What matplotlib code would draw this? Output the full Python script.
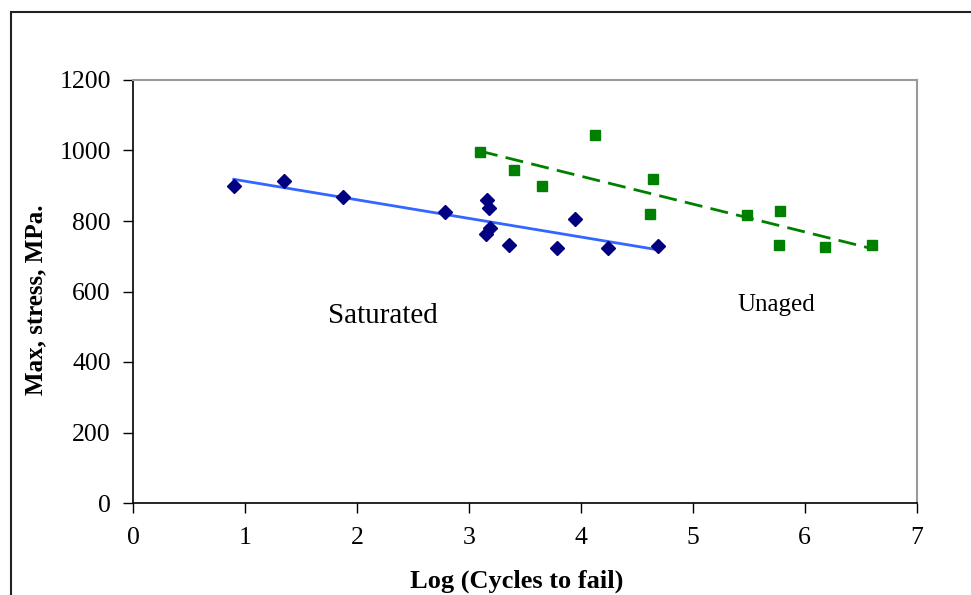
import matplotlib
matplotlib.use("Agg")
import matplotlib.pyplot as plt
import numpy as np
from matplotlib.patches import Rectangle

# Saturated specimens (log cycles, max stress MPa)
sat_logn = [0.90, 1.35, 1.88, 2.79, 3.16, 3.18, 3.19, 3.15, 3.36, 3.79, 3.95, 4.24, 4.69]
sat_stress = [900, 914, 869, 825, 860, 838, 781, 762, 732, 723, 806, 724, 730]

# Unaged specimens
unaged_logn = [3.10, 3.40, 3.65, 4.13, 4.65, 4.62, 5.49, 5.78, 5.77, 6.18, 6.60]
unaged_stress = [996, 945, 899, 1044, 919, 820, 817, 829, 732, 726, 732]

plt.rcParams["font.family"] = ["Liberation Serif", "DejaVu Serif"]

fig = plt.figure(figsize=(9.71, 5.95), dpi=100)
ax = fig.add_axes([133 / 971, 92 / 595, (916.5 - 133) / 971, (503 - 80) / 595])

# linear trend lines, like the spreadsheet ones
sx = np.array(sat_logn)
k1, b1 = np.polyfit(sx, sat_stress, 1)
xs = np.array([sx.min(), sx.max()])
ax.plot(xs, k1 * xs + b1, color="#3366ff", lw=2, zorder=2)

ux = np.array(unaged_logn)
k2, b2 = np.polyfit(ux, unaged_stress, 1)
xu = np.array([ux.min(), ux.max()])
ax.plot(xu, k2 * xu + b2, color="#008000", lw=2, ls=(0, (6.5, 3)), zorder=2)

ax.plot(sat_logn, sat_stress, "D", color="#000080", ms=6.8, mec="#000080", zorder=3)
ax.plot(unaged_logn, unaged_stress, "s", color="#008000", ms=7, mec="#008000", zorder=3)

ax.text(2.23, 530, "Saturated", fontsize=21, ha="center", va="center")
ax.text(5.75, 562, "Unaged", fontsize=18, ha="center", va="center")

ax.set_xlim(0, 7)
ax.set_ylim(0, 1200)
ax.set_xticks(range(0, 8))
ax.set_yticks(range(0, 1201, 200))
ax.tick_params(direction="out", length=7, width=1, labelsize=18.5)
ax.tick_params(axis="y", pad=9)
ax.tick_params(axis="x", pad=10)
for s in ["top", "right"]:
    ax.spines[s].set_color("#999999")
    ax.spines[s].set_linewidth(1.5)
for s in ["left", "bottom"]:
    ax.spines[s].set_linewidth(1.2)

ax.set_xlabel("Log (Cycles to fail)", fontsize=19, fontweight="bold")
ax.set_ylabel("Max, stress, MPa.", fontsize=18, fontweight="bold")
ax.xaxis.set_label_coords(0.49, -0.158)
ax.yaxis.set_label_coords(-0.11, 0.48)

# outer chart frame (right and bottom fall outside the picture)
fig.patches.append(Rectangle((11 / 971, -0.1), 1.2, 1.1 - 12 / 595,
                             transform=fig.transFigure, fill=False,
                             edgecolor="#222222", lw=1.5, clip_on=False))

fig.savefig("out.png", dpi=100)
